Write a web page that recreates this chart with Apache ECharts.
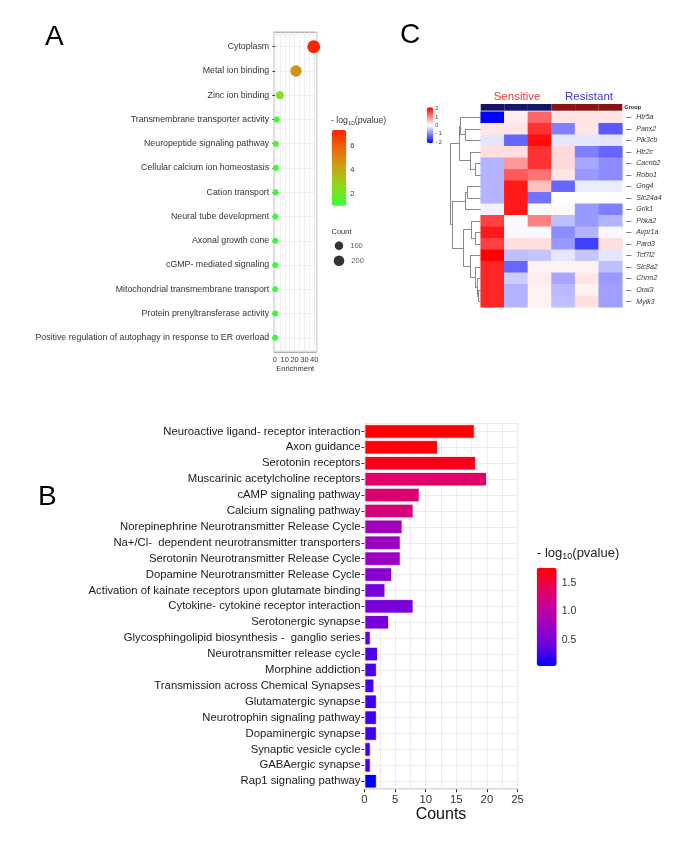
<!DOCTYPE html>
<html><head><meta charset="utf-8">
<script src="https://cdn.jsdelivr.net/npm/echarts@6/dist/echarts.min.js"></script>
<style>html,body{margin:0;padding:0;background:#fff}#c{width:685px;height:842px}</style>
</head><body><div id="c"></div>
<script>
const FONT = "'Liberation Sans', Arial, sans-serif";

// ---------- Panel A : GO enrichment dot plot ----------
const goTerms = ['Cytoplasm','Metal ion binding','Zinc ion binding','Transmembrane transporter activity',
  'Neuropeptide signaling pathway','Cellular calcium ion homeostasis','Cation transport','Neural tube development',
  'Axonal growth cone','cGMP- mediated signaling','Mitochondrial transmembrane transport',
  'Protein prenyltransferase activity','Positive regulation of autophagy in response to ER overload'];
const goEnrichment = [39.5, 21.4, 5.1, 1.8, 0.9, 0.9, 0.7, 0.4, 0.4, 0.4, 0.3, 0.3, 0.2];
const goLogP = [7.2, 4.6, 2.4, 1.3, 1.5, 1.3, 1.2, 1.1, 1.1, 1.1, 1.1, 1.1, 1.1];
const goCount = [340, 240, 70, 12, 10, 10, 8, 6, 6, 6, 5, 5, 5];
const countLegend = [100, 200];

// ---------- Panel B : pathway bar chart ----------
const keggTerms = ['Neuroactive ligand- receptor interaction','Axon guidance','Serotonin receptors',
  'Muscarinic acetylcholine receptors','cAMP signaling pathway','Calcium signaling pathway',
  'Norepinephrine Neurotransmitter Release Cycle','Na+/Cl-  dependent neurotransmitter transporters',
  'Serotonin Neurotransmitter Release Cycle','Dopamine Neurotransmitter Release Cycle',
  'Activation of kainate receptors upon glutamate binding','Cytokine- cytokine receptor interaction',
  'Serotonergic synapse','Glycosphingolipid biosynthesis -  ganglio series','Neurotransmitter release cycle',
  'Morphine addiction','Transmission across Chemical Synapses','Glutamatergic synapse',
  'Neurotrophin signaling pathway','Dopaminergic synapse','Synaptic vesicle cycle','GABAergic synapse',
  'Rap1 signaling pathway'];
const keggCounts = [18, 12, 18.2, 20, 9, 8, 6.2, 5.9, 5.9, 4.5, 3.4, 8, 4, 1, 2.2, 2, 1.6, 2, 2, 2, 1, 1, 2];
const keggLogP = [1.78, 1.76, 1.68, 1.35, 1.3, 1.25, 0.8, 0.75, 0.75, 0.6, 0.5, 0.5, 0.5, 0.35, 0.3, 0.28, 0.28, 0.25, 0.25, 0.25, 0.25, 0.25, 0.04];

// ---------- Panel C : heatmap ----------
const samples = ['S1','S2','S3','R1','R2','R3'];
const sampleGroup = ['Sensitive','Sensitive','Sensitive','Resistant','Resistant','Resistant'];
const genes = ['Htr5a','Panx2','Pik3cb','Htr2c','Cacnb2','Robo1','Gng4','Slc24a4','Grik1','Phka2','Avpr1a',
  'Pard3','Tcf7l2','Slc8a2','Chrm2','Orai3','Mylk3'];
const zscores = [
  [-2.0, 0.15, 1.2, 0.2, 0.2, 0.2],
  [0.2, 0.2, 1.6, -1.0, 0.2, -1.3],
  [-0.2, -1.2, 1.9, -0.2, -0.2, -0.2],
  [0.25, 0.25, 1.6, 0.3, -1.0, -1.2],
  [-0.6, 0.8, 1.6, 0.3, -0.7, -0.9],
  [-0.6, 1.3, 1.1, 0.2, -0.8, -0.9],
  [-0.6, 1.8, 0.5, -1.2, -0.15, -0.15],
  [-0.6, 1.8, -1.1, 0.0, 0.0, 0.0],
  [-0.1, 1.8, 0.03, 0.05, -0.8, -1.0],
  [1.5, -0.05, 1.0, -0.5, -0.8, -0.6],
  [1.8, -0.05, -0.05, -0.9, -0.6, -0.05],
  [1.5, 0.25, 0.25, -0.8, -1.5, 0.25],
  [2.0, -0.5, -0.45, -0.2, -0.45, -0.2],
  [1.7, -1.2, 0.1, 0.1, 0.1, -0.5],
  [1.7, -0.4, 0.15, -0.7, 0.2, -0.8],
  [1.7, -0.6, 0.1, -0.55, 0.1, -0.75],
  [1.7, -0.6, 0.1, -0.5, 0.25, -0.75]
];
// hierarchical clustering merges: [left, right, height]; numbers = gene rows, 'mK' = K-th merge
const dendroMerges = [
  [1, 2, 15.0], [0, 'm0', 20.0], [4, 5, 5.7], [3, 'm2', 10.7], ['m1', 'm3', 21.0],
  [6, 7, 13.7], ['m5', 8, 15.7], [10, 11, 5.7], [9, 'm7', 9.7], [15, 16, 2.2],
  [14, 'm9', 3.4], [13, 'm10', 5.7], [12, 'm11', 10.7], ['m8', 'm12', 17.4],
  ['m6', 'm13', 28.7], ['m4', 'm14', 30.2]
];

// ---------- helpers ----------
function dotSize(c) { return 2 * Math.sqrt(8 + 0.1 * c); }
function buildDendro(merges) {
  const nodes = [], segs = [];
  const get = r => typeof r === 'number' ? { y: r + 0.5, h: 0 } : nodes[+r.slice(1)];
  merges.forEach(([a, b, h]) => {
    const A = get(a), B = get(b);
    segs.push({ coords: [[A.h, A.y], [h, A.y]] });
    segs.push({ coords: [[B.h, B.y], [h, B.y]] });
    segs.push({ coords: [[h, A.y], [h, B.y]] });
    nodes.push({ y: (A.y + B.y) / 2, h });
  });
  return segs;
}
const near = (v, k) => Math.abs(v - Math.round(v / k) * k) < 1e-6;
const hidden = { show: false };
const G = '#EBEBEB';
const N = 'none';

const chart = echarts.init(document.getElementById('c'), null, { renderer: 'canvas' });
const option = {
  animation: false,
  textStyle: { fontFamily: FONT },
  grid: [
    /*0 A data*/  { left: 273.7, top: 34.6, width: 43, height: 315.3, outerBoundsMode: N },
    /*1 A size legend*/ { left: 334, top: 238.2, width: 10, height: 30, outerBoundsMode: N },
    /*2 A colorbar*/ { left: 331.7, top: 121.4, width: 14.6, height: 97.2, outerBoundsMode: N },
    /*3 B*/ { left: 364.5, top: 423.5, width: 153, height: 365.7, show: true, borderColor: '#888', borderWidth: 1, outerBoundsMode: N },
    /*4 B colorbar*/ { left: 536.7, top: 554.9, width: 20, height: 113.4, outerBoundsMode: N },
    /*5 C heat*/ { left: 480.7, top: 111.7, width: 141.6, height: 195.6, outerBoundsMode: N },
    /*6 C group*/ { left: 480.7, top: 104, width: 141.6, height: 6.7, outerBoundsMode: N },
    /*7 C dendro*/ { left: 450, top: 111.7, width: 30.7, height: 195.6, outerBoundsMode: N },
    /*8 C colorbar*/ { left: 426.7, top: 108.7, width: 6.6, height: 33.3, outerBoundsMode: N },
    /*9 A frame*/ { left: 273.7, top: 32.2, width: 43, height: 320, show: true, borderColor: '#888', borderWidth: 1, outerBoundsMode: N }
  ],
  xAxis: [
    /*0*/ { gridIndex: 0, type: 'value', min: -1.25, max: 42.5, show: false },
    /*1*/ { gridIndex: 1, type: 'value', min: 0, max: 1, show: false },
    /*2*/ { gridIndex: 2, type: 'value', min: 0, max: 1, show: false },
    /*3*/ { gridIndex: 3, type: 'value', min: 0, max: 25, interval: 2.5,
      axisLine: hidden, axisTick: hidden,
      axisLabel: { fontSize: 11.3, color: '#333', margin: 5, formatter: v => (near(v, 5) ? String(Math.round(v)) : '') },
      splitLine: { show: true, lineStyle: { color: G, width: 1 } },
      name: 'Counts', nameLocation: 'middle', nameGap: 17,
      nameTextStyle: { fontSize: 16, color: '#111', verticalAlign: 'top' } },
    /*4*/ { gridIndex: 4, type: 'value', min: 0, max: 1, show: false },
    /*5*/ { gridIndex: 5, type: 'category', data: samples, show: false },
    /*6*/ { gridIndex: 6, type: 'category', data: samples, show: false },
    /*7*/ { gridIndex: 7, type: 'value', min: 0, max: 30.7, inverse: true, show: false },
    /*8*/ { gridIndex: 8, type: 'value', min: 0, max: 1, show: false },
    /*9 A frame x*/ { gridIndex: 9, type: 'value', min: -1.25, max: 42.5, splitNumber: 9,
      axisLine: hidden, axisTick: hidden,
      axisLabel: { fontSize: 7.5, color: '#333', margin: 4, showMinLabel: false, showMaxLabel: false,
        formatter: v => (v > -0.1 && near(v, 10) ? String(Math.round(v)) : '') },
      splitLine: { show: true, lineStyle: { color: G, width: 0.8 } },
      name: 'Enrichment', nameLocation: 'middle', nameGap: 12,
      nameTextStyle: { fontSize: 7.5, color: '#333', verticalAlign: 'top' } },
    /*10 B ticks*/ { gridIndex: 3, type: 'value', min: 0, max: 25, interval: 5, position: 'bottom',
      axisLine: hidden, axisLabel: hidden, splitLine: hidden,
      axisTick: { show: true, length: 3, lineStyle: { color: '#333' } } }
  ],
  yAxis: [
    /*0*/ { gridIndex: 0, type: 'category', data: goTerms, inverse: true,
      axisLine: hidden,
      axisTick: { show: true, length: 2.5, alignWithLabel: true, lineStyle: { color: '#333' } },
      axisLabel: { fontSize: 8.8, color: '#333', margin: 4.5, interval: 0 },
      splitLine: hidden },
    /*1*/ { gridIndex: 1, type: 'category', data: countLegend.map(String), inverse: true, show: false },
    /*2*/ { gridIndex: 2, type: 'value', min: 0, max: 8, interval: 2, position: 'right',
      axisLine: hidden, axisTick: { show: true, inside: true, length: 3, lineStyle: { color: '#fff' } },
      axisLabel: { fontSize: 7.5, color: '#333', margin: 4, formatter: v => (v > 0 && v < 8 ? String(v) : '') },
      splitLine: hidden },
    /*3*/ { gridIndex: 3, type: 'category', data: keggTerms, inverse: true,
      axisLine: hidden,
      axisTick: { show: true, length: 3, alignWithLabel: true, lineStyle: { color: '#333' } },
      axisLabel: { fontSize: 11.3, color: '#1a1a1a', margin: 4, interval: 0 },
      splitLine: hidden },
    /*4 B horizontal grid at category centres*/ { gridIndex: 3, type: 'value', min: -0.5, max: 22.5, splitNumber: 23, inverse: true,
      axisLine: hidden, axisTick: hidden, axisLabel: hidden,
      splitLine: { show: true, lineStyle: { color: G, width: 1 } } },
    /*5*/ { gridIndex: 4, type: 'value', min: 0, max: 2, interval: 0.5, position: 'right',
      axisLine: hidden, axisTick: { show: true, inside: true, length: 4, lineStyle: { color: '#fff' } },
      axisLabel: { fontSize: 10.5, color: '#333', margin: 5, formatter: v => (v > 0 && v < 2 ? v.toFixed(1) : '') },
      splitLine: hidden },
    /*6*/ { gridIndex: 4, type: 'value', min: 0, max: 2, interval: 0.5, position: 'left',
      axisLine: hidden, axisTick: { show: true, inside: true, length: 4, lineStyle: { color: '#fff' } },
      axisLabel: hidden, splitLine: hidden },
    /*7*/ { gridIndex: 5, type: 'category', data: genes, inverse: true, position: 'right', offset: 4,
      axisLine: hidden,
      axisTick: { show: true, length: 5, alignWithLabel: true, lineStyle: { color: '#555', width: 0.8 } },
      axisLabel: { fontSize: 7, fontStyle: 'italic', color: '#333', margin: 10, interval: 0 },
      splitLine: hidden },
    /*8*/ { gridIndex: 6, type: 'value', min: 0, max: 1, show: false },
    /*9*/ { gridIndex: 7, type: 'value', min: 0, max: 17, inverse: true, show: false },
    /*10*/ { gridIndex: 8, type: 'value', min: -2, max: 2, interval: 1, position: 'right',
      axisLine: hidden, axisTick: hidden, splitLine: hidden,
      axisLabel: { fontSize: 5.5, color: '#333', margin: 2, formatter: v => (v < 0 ? '- ' + Math.abs(v) : String(v)) } },
    /*11 A horizontal grid at category centres*/ { gridIndex: 0, type: 'value', min: -0.5, max: 12.5, splitNumber: 13, inverse: true,
      axisLine: hidden, axisTick: hidden, axisLabel: hidden,
      splitLine: { show: true, lineStyle: { color: G, width: 0.8 } } },
    /*12 A frame y*/ { gridIndex: 9, type: 'value', min: 0, max: 1, show: false }
  ],
  visualMap: [
    { type: 'continuous', seriesIndex: 0, dimension: 2, min: 1.06, max: 7.29, calculable: false,
      left: 331.7, top: 130, itemWidth: 14.6, itemHeight: 75.7, padding: 0, text: null, show: true,
      inRange: { color: ['#33FF33', '#8ADB1C', '#C9A514', '#EA6A0C', '#FF2200'] } },
    { type: 'continuous', seriesIndex: 2, dimension: 2, min: 0.04, max: 1.78, calculable: false,
      left: 536.7, top: 567.7, itemWidth: 20, itemHeight: 98.3, padding: 0, text: null, show: true,
      inRange: { color: ['#0000FF', '#6A00E2', '#9A00C4', '#C4009A', '#E80058', '#FF0000'] } },
    { type: 'continuous', seriesIndex: 3, dimension: 2, min: -2, max: 2, calculable: false,
      left: 426.7, top: 107.3, itemWidth: 6.6, itemHeight: 36, padding: 0, text: null, show: true,
      inRange: { color: ['#0000FF', '#FFFFFF', '#FF0000'] } }
  ],
  series: [
    { type: 'scatter', xAxisIndex: 0, yAxisIndex: 0,
      data: goTerms.map((t, i) => [goEnrichment[i], i, goLogP[i], goCount[i]]),
      encode: { x: 0, y: 1 }, symbolSize: d => dotSize(d[3]), itemStyle: { opacity: 1 }, z: 5 },
    { type: 'scatter', xAxisIndex: 1, yAxisIndex: 1,
      data: countLegend.map((c, i) => [0.5, i, c]), encode: { x: 0, y: 1 },
      symbolSize: d => dotSize(d[2]), itemStyle: { color: '#000' },
      label: { show: true, position: 'right', distance: 7, fontSize: 7.5, color: '#333', formatter: p => String(p.data[2]) } },
    { type: 'bar', xAxisIndex: 3, yAxisIndex: 3,
      data: keggTerms.map((t, i) => [keggCounts[i], i, keggLogP[i]]), encode: { x: 0, y: 1 },
      barCategoryGap: '10%', itemStyle: { borderColor: '#fff', borderWidth: 0.8 }, z: 5 },
    { type: 'heatmap', xAxisIndex: 5, yAxisIndex: 7,
      data: zscores.flatMap((row, r) => row.map((z, c) => [c, r, z])) },
    { type: 'bar', xAxisIndex: 6, yAxisIndex: 8, barCategoryGap: '0%',
      data: sampleGroup.map(g => ({ value: 1, itemStyle: { color: g === 'Sensitive' ? '#15156A' : '#8A1414' } })) },
    { type: 'lines', coordinateSystem: 'cartesian2d', xAxisIndex: 7, yAxisIndex: 9,
      data: buildDendro(dendroMerges), lineStyle: { color: '#888', width: 1, opacity: 1 } }
  ],
  graphic: [
    { type: 'text', style: { x: 45, y: 37, text: 'A', font: '28px ' + FONT, fill: '#000', textVerticalAlign: 'middle' } },
    { type: 'text', style: { x: 38, y: 497, text: 'B', font: '28px ' + FONT, fill: '#000', textVerticalAlign: 'middle' } },
    { type: 'text', style: { x: 400, y: 35, text: 'C', font: '28px ' + FONT, fill: '#000', textVerticalAlign: 'middle' } },
    { type: 'text', style: { x: 331, y: 121, textVerticalAlign: 'middle', fill: '#333',
      text: '{a|- log}{s|10}{a|(pvalue)}',
      rich: { a: { fontSize: 8.7, fontFamily: FONT, color: '#333', lineHeight: 11, verticalAlign: 'middle' },
              s: { fontSize: 6.2, fontFamily: FONT, color: '#333', lineHeight: 6, verticalAlign: 'bottom' } } } },
    { type: 'text', style: { x: 331.5, y: 231.7, text: 'Count', font: '7.5px ' + FONT, fill: '#333', textVerticalAlign: 'middle' } },
    { type: 'text', style: { x: 537, y: 553, textVerticalAlign: 'middle', fill: '#222',
      text: '{a|- log}{s|10}{a|(pvalue)}',
      rich: { a: { fontSize: 13, fontFamily: FONT, color: '#222', lineHeight: 16, verticalAlign: 'middle' },
              s: { fontSize: 9, fontFamily: FONT, color: '#222', lineHeight: 9, verticalAlign: 'bottom' } } } },
    { type: 'text', style: { x: 517, y: 96.7, text: 'Sensitive', font: '11.5px ' + FONT, fill: '#E23A3A', textAlign: 'center', textVerticalAlign: 'middle' } },
    { type: 'text', style: { x: 589, y: 96.7, text: 'Resistant', font: '11.5px ' + FONT, fill: '#3A3AD0', textAlign: 'center', textVerticalAlign: 'middle' } },
    { type: 'text', style: { x: 624.3, y: 107.5, text: 'Group', font: 'bold 5.6px ' + FONT, fill: '#222', textVerticalAlign: 'middle' } }
  ]
};
chart.setOption(option);
</script>
</body></html>
